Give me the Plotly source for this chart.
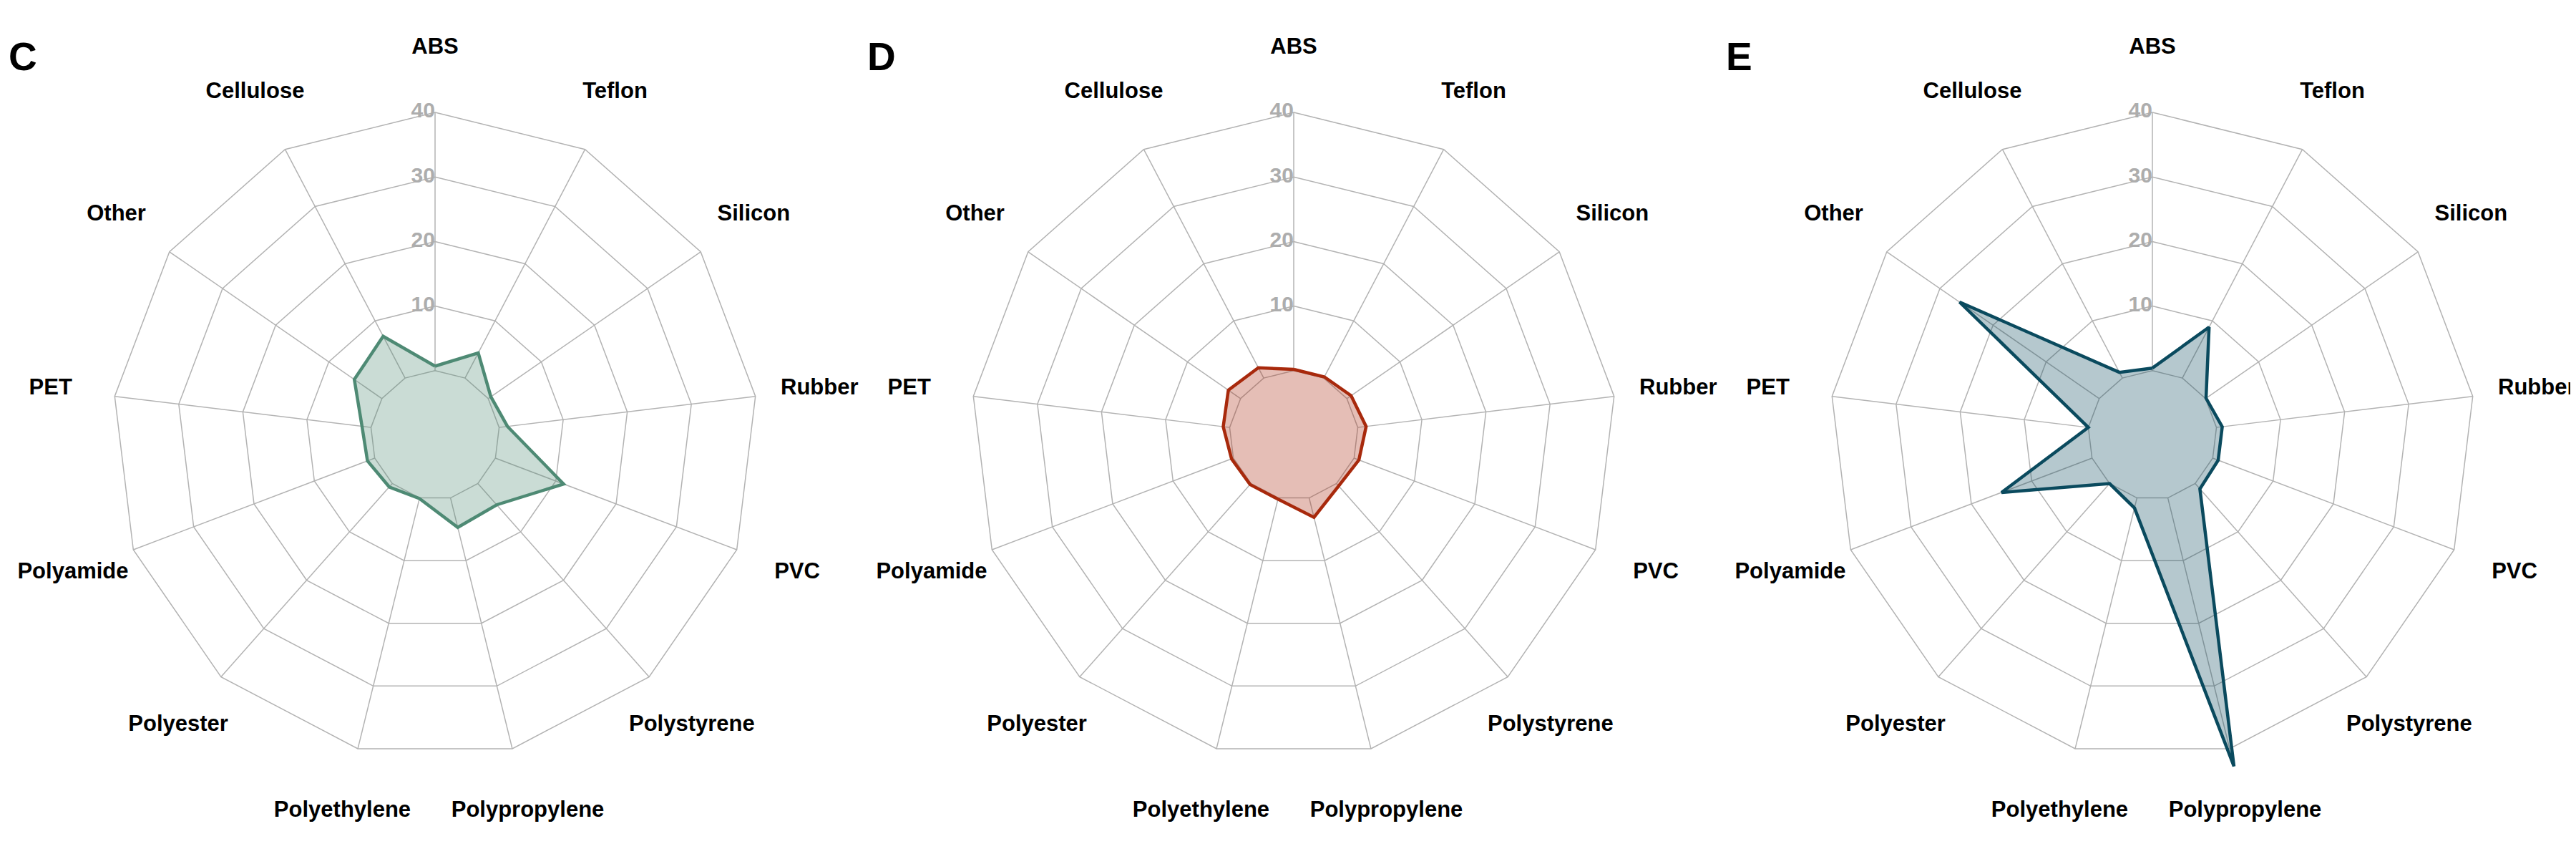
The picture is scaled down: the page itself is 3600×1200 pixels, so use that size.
import plotly.graph_objects as go

categories = ["ABS", "Teflon", "Silicon", "Rubber", "PVC", "Polystyrene",
              "Polypropylene", "Polyethylene", "Polyester", "Polyamide",
              "PET", "Other", "Cellulose"]

values_c = [0.7, 4.4, 0.5, 1.3, 11.3, 4.4, 4.7, 0.1, 0.7, 1.2, 1.4, 5.2, 7.3]
values_d = [0.2, 0.2, 0.8, 1.3, 0.8, 0.5, 3.1, 0.2, 0.2, 0.3, 1.0, 2.3, 1.8]
values_e = [0.4, 8.9, 0.1, 0.9, 0.9, 1.1, 42.8, 1.6, 0.0, 15.0, 0.0, 26.3, 1.0]

panel_letters = ["C", "D", "E"]
radial_ticks = [0, 10, 20, 30, 40]
label_radius = 50
r_min, r_max = -10, 52

panels = [
    (values_c, "#4E8A74", "rgba(78,138,116,0.30)"),
    (values_d, "#A8290C", "rgba(168,41,12,0.30)"),
    (values_e, "#0A4A5E", "rgba(10,74,94,0.30)"),
]

GRID = "#B3B3B3"
TICKGRAY = "#ADADAD"
FONT = "Liberation Sans, Arial, sans-serif"

fig = go.Figure()
W, H = 3600, 1200
R40 = 451
R = R40 * (r_max - r_min) / (radial_ticks[-1] - r_min)
ydom = [(H / 2 - R) / H, (H / 2 + R) / H]

closed = categories + [categories[0]]
spoke_r, spoke_t = [], []
for c in categories:
    spoke_r += [radial_ticks[0], radial_ticks[-1], None]
    spoke_t += [c, c, None]

for i, (vals, line_c, fill_c) in enumerate(panels):
    sp = "polar" if i == 0 else f"polar{i+1}"
    # grid rings
    for t in radial_ticks:
        fig.add_trace(go.Scatterpolar(
            r=[t] * len(closed), theta=closed, mode="lines",
            line=dict(color=GRID, width=1.5),
            hoverinfo="skip", showlegend=False, subplot=sp))
    # spokes
    fig.add_trace(go.Scatterpolar(
        r=spoke_r, theta=spoke_t, mode="lines",
        line=dict(color=GRID, width=1.5), connectgaps=False,
        hoverinfo="skip", showlegend=False, subplot=sp))
    # radial tick labels
    fig.add_trace(go.Scatterpolar(
        r=radial_ticks, theta=[categories[0]] * len(radial_ticks),
        text=[str(t) for t in radial_ticks], mode="text",
        textposition="middle left",
        textfont=dict(family=FONT, size=30, color=TICKGRAY, weight="bold"),
        hoverinfo="skip", showlegend=False, subplot=sp))
    # data polygon
    fig.add_trace(go.Scatterpolar(
        r=vals + [vals[0]], theta=closed,
        mode="lines", fill="toself", fillcolor=fill_c,
        line=dict(color=line_c, width=4.5),
        hoverinfo="skip", showlegend=False, subplot=sp))
    # category labels
    fig.add_trace(go.Scatterpolar(
        r=[label_radius] * len(categories), theta=categories,
        text=categories, mode="text", textposition="middle center",
        textfont=dict(family=FONT, size=31, color="black", weight="bold"),
        hoverinfo="skip", showlegend=False, subplot=sp))

    polar_layout = dict(
        domain=dict(x=[i / 3, (i + 1) / 3], y=ydom),
        bgcolor="rgba(0,0,0,0)",
        gridshape="linear",
        radialaxis=dict(range=[r_min, r_max], visible=False,
                        showgrid=False, showline=False, showticklabels=False,
                        ticks=""),
        angularaxis=dict(type="category", categoryarray=categories,
                         rotation=90, direction="clockwise",
                         showticklabels=False, ticks="", showgrid=False,
                         showline=False, visible=True),
    )
    fig.update_layout({sp: polar_layout})

for i, letter in enumerate(panel_letters):
    fig.add_annotation(text=f"<b>{letter}</b>", xref="paper", yref="paper",
                       x=(i * 1200 + 2) / W, y=1 - 38 / H,
                       xanchor="left", yanchor="top", showarrow=False,
                       font=dict(family=FONT, size=55, color="black"))

fig.update_layout(width=W, height=H, margin=dict(l=0, r=0, t=0, b=0),
                  paper_bgcolor="white", plot_bgcolor="white",
                  showlegend=False, hovermode=False)

fig.write_html("out.html", config={"displayModeBar": False})
